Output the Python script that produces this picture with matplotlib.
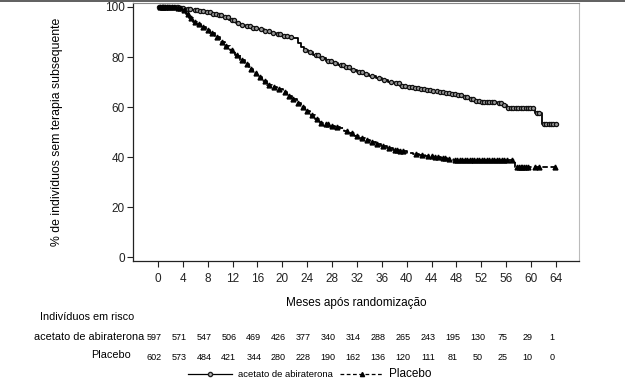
import numpy as np
import matplotlib
matplotlib.use("Agg")
import matplotlib.pyplot as plt
from matplotlib.lines import Line2D
import matplotlib.transforms as mtransforms

plt.rcParams['font.family'] = ['Liberation Sans', 'DejaVu Sans']

# ---- data ----
abi_t = [0, 1.5, 2.5, 3.5, 4.5, 5.5, 6.5, 7.5, 8.5, 9.5, 10.5, 11.5, 12.5, 13.2, 14, 15, 16,
         17, 18, 19, 20, 21, 21.8, 22.5, 23, 23.5, 24.2, 25, 26, 27, 28, 29, 30, 31, 32, 33,
         34, 35, 36, 37, 38, 39, 40, 41, 42, 43, 44, 45, 46, 47, 48, 49, 50, 51, 52, 53,
         54.5, 55.5, 56.1, 60.6, 61.7]
abi_s = [100, 100, 99.8, 99.6, 99.3, 98.8, 98.3, 97.8, 97.3, 96.6, 95.8, 94.8, 93.7, 92.8,
         92.2, 91.6, 91, 90.3, 89.7, 89, 88.5, 87.9, 87.4, 85.5, 84, 82.8, 82, 80.8, 79.5,
         78.5, 77.6, 76.7, 75.8, 74.8, 73.8, 73, 72.2, 71.4, 70.8, 70, 69.4, 68.5, 67.8,
         67.4, 67.1, 66.8, 66.5, 66, 65.6, 65.2, 64.6, 64, 63.2, 62.3, 62, 61.8, 61.4, 60.8,
         59.6, 57.6, 53.2]
abi_end = 64.3
abi_cens = [0.2, 0.4, 0.6, 0.8, 1.0, 1.2, 1.4, 1.7, 2.0, 2.3, 2.7, 3.0, 3.3, 3.7, 4.1, 4.8,
            5.2, 5.9, 6.3, 6.8, 7.3, 7.9, 8.3, 8.8, 9.3, 9.8, 10.2, 10.8, 11.3, 11.9, 12.3,
            12.8, 13.5, 14.3, 14.8, 15.3, 15.8, 16.5, 17.3, 17.8, 18.5, 19.3, 19.7, 20.3,
            20.7, 21.4, 23.7, 24.5, 25.4, 25.8, 26.4, 27.3, 27.8, 28.5, 29.4, 29.8, 30.3,
            30.8, 31.4, 32.4, 32.8, 33.5, 34.5, 35.5, 36.3, 37.5, 38.3, 38.8, 39.3, 39.8,
            40.3, 40.8, 41.3, 41.8, 42.3, 42.8, 43.3, 43.8, 44.3, 44.8, 45.3, 45.8, 46.3,
            46.8, 47.3, 47.7, 48.3, 48.7, 49.3, 49.7, 50.3, 50.7, 51.2, 51.6, 52.1, 52.5,
            52.9, 53.3, 53.7, 54.1, 54.8, 55.2, 55.7, 56.3, 56.7, 57.1, 57.5, 57.9, 58.3,
            58.7, 59.1, 59.5, 59.9, 60.3, 60.9, 61.2, 62.0, 62.4, 62.8, 63.2, 63.6, 64.0]

pla_t = [0, 2, 3, 3.9, 4.5, 5, 5.6, 6.3, 7, 7.7, 8.4, 9.2, 10, 10.8, 11.6, 12.4, 13.2, 14,
         14.6, 15.3, 16, 16.8, 17.5, 18.4, 19.2, 20.1, 20.8, 21.5, 22.3, 23, 23.7, 24.4,
         25.2, 26, 26.8, 27.5, 28.4, 29.3, 30, 30.8, 31.7, 32.5, 33.3, 34.1, 35, 35.9, 36.8,
         37.8, 38.8, 40, 41, 42, 43, 44.2, 45.5, 46.5, 47.4, 57.4]
pla_s = [100, 99.8, 99.5, 98.8, 97, 95.5, 94, 93, 92, 90.8, 89.6, 87.8, 86, 84.5, 82.8, 80.8,
         78.8, 77, 75.3, 73.6, 72, 70.4, 68.8, 67.8, 67, 66, 64.5, 63, 61.6, 60, 58.4, 56.8,
         55.2, 53.6, 53, 52.5, 52, 51.6, 50.5, 49.5, 48.4, 47.8, 47, 46, 45.2, 44.4, 43.6,
         42.8, 42.2, 41.6, 41.2, 40.8, 40.4, 40, 39.6, 39.2, 38.8, 36]
pla_end = 63.8
pla_cens = [0.3, 0.6, 0.9, 1.2, 1.5, 1.8, 2.2, 2.6, 3.2, 3.6, 4.2, 4.8, 5.3, 5.9, 6.6, 7.3,
            8.0, 8.7, 9.5, 10.3, 11.0, 11.9, 12.7, 13.5, 14.3, 15.0, 15.7, 16.4, 17.2, 17.9,
            18.7, 19.5, 20.4, 21.1, 21.8, 22.6, 23.3, 24.0, 24.8, 25.6, 26.3, 27.0, 27.3,
            28.0, 28.8, 30.4, 31.2, 32.0, 32.8, 33.6, 34.5, 35.3, 36.2, 37.2, 38.2, 38.5,
            39.0, 39.4, 41.5, 42.5, 43.5, 44.0, 44.6, 45.0, 45.8, 46.2, 46.8, 47.7, 48.1,
            48.5, 48.9, 49.3, 49.7, 50.1, 50.5, 50.9, 51.3, 51.7, 52.1, 52.5, 52.9, 53.3,
            53.7, 54.1, 54.5, 54.9, 55.3, 55.7, 56.1, 57.0, 57.7, 58.0, 58.3, 58.6, 58.9,
            59.2, 59.5, 60.6, 61.2, 63.8]

risk_times = list(range(0, 65, 4))
abi_risk = [597, 571, 547, 506, 469, 426, 377, 340, 314, 288, 265, 243, 195, 130, 75, 29, 1]
pla_risk = [602, 573, 484, 421, 344, 280, 228, 190, 162, 136, 120, 111, 81, 50, 25, 10, 0]

abi_label = "acetato de abiraterona"
pla_label = "Placebo"


def step_value(times, surv, t):
    idx = np.searchsorted(np.asarray(times), t, side='right') - 1
    return np.asarray(surv)[idx]


fig = plt.figure(figsize=(6.25, 3.89), dpi=100)
ax = fig.add_axes([133 / 625, 1 - 261 / 389, (579 - 133) / 625, (261 - 3) / 389])

# abiraterone
ax.step(abi_t + [abi_end], abi_s + [abi_s[-1]], where='post', color='black', lw=1.3)
ax.plot(abi_cens, step_value(abi_t, abi_s, abi_cens), linestyle='none', marker='o',
        markersize=3.0, markerfacecolor='#999999', markeredgecolor='#111111',
        markeredgewidth=0.9)
# placebo
ax.step(pla_t + [pla_end], pla_s + [pla_s[-1]], where='post', color='black', lw=1.3,
        linestyle=(0, (3, 1.5)))
ax.plot(pla_cens, step_value(pla_t, pla_s, pla_cens), linestyle='none', marker='^',
        markersize=3.5, color='black')

ax.set_xlim(-4.0, 67.7)
ax.set_ylim(-1.6, 101.6)
ax.set_xticks(risk_times)
ax.set_yticks([0, 20, 40, 60, 80, 100])
ax.tick_params(axis='both', labelsize=8.5, length=4, width=0.8, color='#222222', pad=2,
               labelcolor='#222222')
ax.tick_params(axis='x', pad=5)
for s in ['left', 'bottom']:
    ax.spines[s].set_color('#222222')
    ax.spines[s].set_linewidth(0.9)
ax.spines['top'].set_color('#888888')
ax.spines['right'].set_color('#bbbbbb')
ax.spines['top'].set_linewidth(0.8)
ax.spines['right'].set_linewidth(0.8)

ax.set_xlabel("Meses após randomização", fontsize=8.5)
ax.xaxis.set_label_coords(0.5, 1 - (303 - 3) / 258, transform=ax.transAxes)
ax.xaxis.label.set_va('center')
ax.set_ylabel("% de indivíduos sem terapia subsequente", fontsize=8.8)
ax.yaxis.set_label_coords((57 - 133) / 446, 0.5)
ax.yaxis.label.set_va('center')

# top border line of the figure
fig.add_artist(Line2D([0, 1], [1 - 0.8 / 389, 1 - 0.8 / 389], transform=fig.transFigure,
                      color='#444444', lw=1.2))

# number at risk table
trans = mtransforms.blended_transform_factory(ax.transData, fig.transFigure)
fig.text(40 / 625, 1 - 317 / 389, "Indivíduos em risco", fontsize=7.8, va='center', ha='left')
fig.text(144 / 625, 1 - 337 / 389, abi_label, fontsize=7.8, va='center', ha='right')
fig.text(131 / 625, 1 - 355 / 389, pla_label, fontsize=7.8, va='center', ha='right')
for t, a, p in zip(risk_times, abi_risk, pla_risk):
    ax.text(t - 0.6, 1 - 337 / 389, str(a), transform=trans, fontsize=6.5, ha='center',
            va='center')
    ax.text(t - 0.6, 1 - 357 / 389, str(p), transform=trans, fontsize=6.5, ha='center',
            va='center')

# legend
h1 = Line2D([0, 1, 2], [0, 0, 0], color='black', lw=0.9, marker='o', markersize=3,
            markerfacecolor='#bbbbbb', markeredgecolor='#222222', markevery=[1])
h2 = Line2D([0, 1, 2], [0, 0, 0], color='black', lw=0.9, linestyle=(0, (3, 2)), marker='^',
            markersize=3, markevery=[1])
leg = fig.legend([h1, h2], [abi_label, pla_label], loc='center',
                 bbox_to_anchor=(310 / 625, 1 - 374 / 389), ncol=2, frameon=False,
                 fontsize=6.8, handlelength=4.6, handletextpad=0.6, columnspacing=0.8)
leg.get_texts()[1].set_fontsize(8.5)

fig.savefig("out.png", dpi=100)
